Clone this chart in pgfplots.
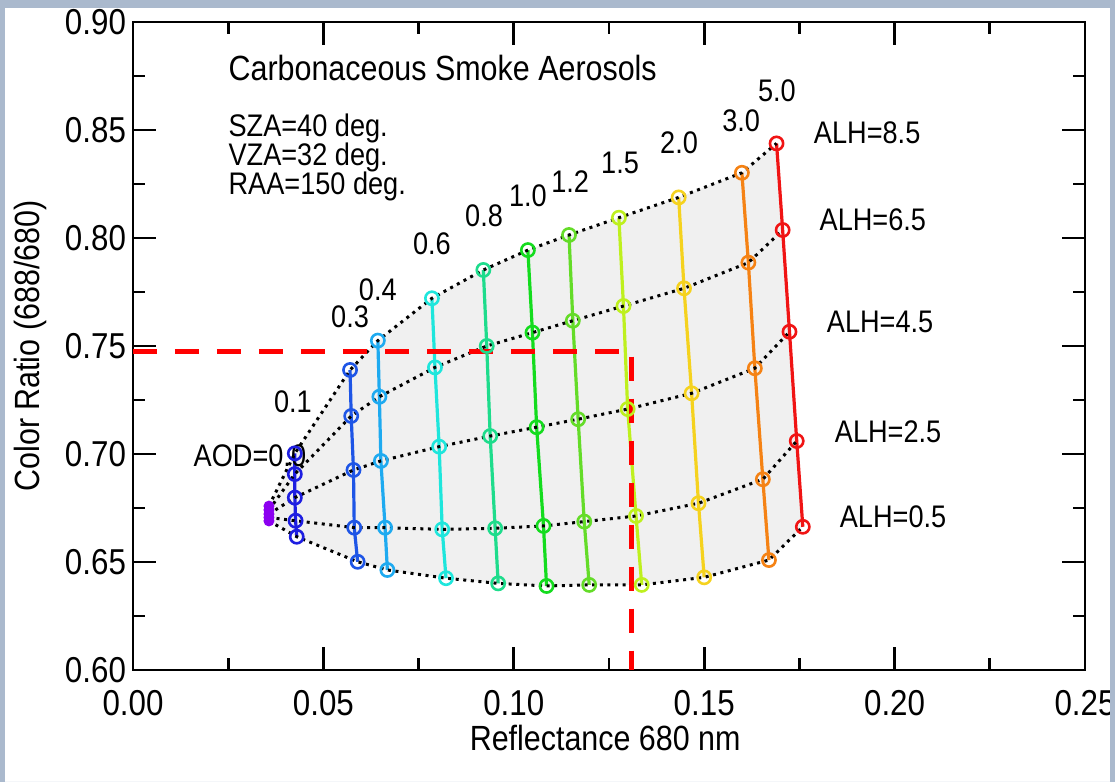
\documentclass[border=0pt]{standalone}
\usepackage{fontspec}
\setmainfont{Liberation Sans}[FakeStretch=0.87]
\usepackage{pgfplots}
\pgfplotsset{compat=1.18}
\definecolor{framec}{RGB}{170,185,205}
\definecolor{cA}{RGB}{140,0,240}
\definecolor{cB}{RGB}{30,30,225}
\definecolor{cC}{RGB}{30,85,230}
\definecolor{cD}{RGB}{30,170,240}
\definecolor{cE}{RGB}{30,230,220}
\definecolor{cF}{RGB}{30,220,140}
\definecolor{cG}{RGB}{20,220,30}
\definecolor{cH}{RGB}{100,220,40}
\definecolor{cI}{RGB}{190,240,30}
\definecolor{cJ}{RGB}{245,210,30}
\definecolor{cK}{RGB}{245,130,20}
\definecolor{cL}{RGB}{240,20,20}
\definecolor{fillc}{RGB}{240,240,240}
\begin{document}
\begin{tikzpicture}
\useasboundingbox (-66.5pt,-56pt) rectangle (491pt,335pt);
\begin{axis}[
  at={(0pt,0pt)}, anchor=south west,
  scale only axis, width=476pt, height=324pt,
  xmin=0, xmax=0.25, ymin=0.6, ymax=0.9,
  xtick={0,0.05,0.10,0.15,0.20,0.25},
  ytick={0.60,0.65,0.70,0.75,0.80,0.85,0.90},
  minor x tick num=1, minor y tick num=1,
  tick align=inside,
  major tick length=11.5pt, minor tick length=6pt,
  axis line style={line width=1.4pt},
  every tick/.style={black, line width=1.4pt},
  /pgf/number format/assume math mode=true,
  xticklabel style={yshift=-6.5pt, /pgf/number format/.cd, fixed, fixed zerofill, precision=2},
  yticklabel style={/pgf/number format/.cd, fixed, fixed zerofill, precision=2},
  tick label style={font=\fontsize{18}{18}\selectfont},
  xlabel={Reflectance 680 nm},
  ylabel={Color Ratio (688/680)},
  label style={font=\fontsize{17.5}{17.5}\selectfont},
  xlabel style={at={(axis description cs:0.496,-0.105)}, anchor=center},
  ylabel style={at={(axis description cs:-0.108,0.5)}, anchor=center},
  clip=true,
]
% shaded region
\addplot[fill=fillc, draw=none] coordinates {
 (0.0357,0.6759) (0.0425,0.7003) (0.0570,0.7389) (0.0643,0.7525) (0.0785,0.7721) (0.0920,0.7852) (0.1037,0.7944) (0.1145,0.8014) (0.1276,0.8094) (0.1433,0.8188) (0.1599,0.8302) (0.1690,0.8438)
 (0.1706,0.8037) (0.1724,0.7566) (0.1743,0.7060) (0.1759,0.6663)
 (0.1670,0.6509) (0.1500,0.6429) (0.1336,0.6394) (0.1198,0.6394) (0.1086,0.6389) (0.0959,0.6401) (0.0822,0.6425) (0.0668,0.6463) (0.0590,0.6501) (0.0430,0.6617) (0.0357,0.6690)
} -- cycle;
% AOD columns
\pgfplotsset{colline/.style={color=#1, line width=1.6pt, mark=o, mark size=3.3pt, mark options={line width=1.3pt, solid}}}
\addplot[colline=cB] coordinates {(0.0425,0.7003) (0.0425,0.6907) (0.0425,0.6798) (0.0427,0.6691) (0.0430,0.6617)};
\addplot[colline=cC] coordinates {(0.0570,0.7389) (0.0573,0.7176) (0.0579,0.6926) (0.0581,0.6659) (0.0590,0.6501)};
\addplot[colline=cD] coordinates {(0.0643,0.7525) (0.0647,0.7265) (0.0651,0.6968) (0.0662,0.6659) (0.0668,0.6463)};
\addplot[colline=cE] coordinates {(0.0785,0.7721) (0.0793,0.7401) (0.0804,0.7034) (0.0812,0.6651) (0.0822,0.6425)};
\addplot[colline=cF] coordinates {(0.0920,0.7852) (0.0929,0.7500) (0.0938,0.7083) (0.0951,0.6656) (0.0959,0.6401)};
\addplot[colline=cG] coordinates {(0.1037,0.7944) (0.1049,0.7562) (0.1060,0.7124) (0.1078,0.6667) (0.1086,0.6389)};
\addplot[colline=cH] coordinates {(0.1145,0.8014) (0.1155,0.7617) (0.1169,0.7161) (0.1185,0.6687) (0.1198,0.6394)};
\addplot[colline=cI] coordinates {(0.1276,0.8094) (0.1288,0.7685) (0.1299,0.7208) (0.1321,0.6713) (0.1336,0.6394)};
\addplot[colline=cJ] coordinates {(0.1433,0.8188) (0.1447,0.7767) (0.1467,0.7281) (0.1485,0.6772) (0.1500,0.6429)};
\addplot[colline=cK] coordinates {(0.1599,0.8302) (0.1616,0.7886) (0.1633,0.7397) (0.1654,0.6883) (0.1670,0.6509)};
\addplot[colline=cL] coordinates {(0.1690,0.8438) (0.1706,0.8037) (0.1724,0.7566) (0.1743,0.7060) (0.1759,0.6663)};
% ALH rows (dotted)
\pgfplotsset{rowline/.style={black, line width=1.5pt, dash pattern=on 1.5pt off 2.3pt}}
\addplot[rowline] coordinates {(0.0357,0.6759) (0.0425,0.7003) (0.0570,0.7389) (0.0643,0.7525) (0.0785,0.7721) (0.0920,0.7852) (0.1037,0.7944) (0.1145,0.8014) (0.1276,0.8094) (0.1433,0.8188) (0.1599,0.8302) (0.1690,0.8438)};
\addplot[rowline] coordinates {(0.0357,0.6741) (0.0425,0.6907) (0.0573,0.7176) (0.0647,0.7265) (0.0793,0.7401) (0.0929,0.7500) (0.1049,0.7562) (0.1155,0.7617) (0.1288,0.7685) (0.1447,0.7767) (0.1616,0.7886) (0.1706,0.8037)};
\addplot[rowline] coordinates {(0.0357,0.6722) (0.0425,0.6798) (0.0579,0.6926) (0.0651,0.6968) (0.0804,0.7034) (0.0938,0.7083) (0.1060,0.7124) (0.1169,0.7161) (0.1299,0.7208) (0.1467,0.7281) (0.1633,0.7397) (0.1724,0.7566)};
\addplot[rowline] coordinates {(0.0357,0.6706) (0.0427,0.6691) (0.0581,0.6659) (0.0662,0.6659) (0.0812,0.6651) (0.0951,0.6656) (0.1078,0.6667) (0.1185,0.6687) (0.1321,0.6713) (0.1485,0.6772) (0.1654,0.6883) (0.1743,0.7060)};
\addplot[rowline] coordinates {(0.0357,0.6690) (0.0430,0.6617) (0.0590,0.6501) (0.0668,0.6463) (0.0822,0.6425) (0.0959,0.6401) (0.1086,0.6389) (0.1198,0.6394) (0.1336,0.6394) (0.1500,0.6429) (0.1670,0.6509) (0.1759,0.6663)};
% AOD = 0 points
\addplot[cA, line width=1.2pt, only marks, mark=*, mark size=2.1pt] coordinates {(0.0357,0.6759) (0.0357,0.6741) (0.0357,0.6722) (0.0357,0.6706) (0.0357,0.6690)};
% red dashed guide
\addplot[red, line width=2.5pt, dash pattern=on 12pt off 9pt] coordinates {(0,0.7475) (0.131,0.7475) (0.131,0.60)};
% texts
\begin{scope}[every node/.style={inner sep=0pt, font=\fontsize{15.6}{15.6}\selectfont}]
\node[anchor=west, font=\fontsize{17.5}{17.5}\selectfont] at (axis cs:0.025,0.8787) {Carbonaceous Smoke Aerosols};
\node[anchor=west] at (axis cs:0.025,0.8509) {SZA=40 deg.};
\node[anchor=west] at (axis cs:0.025,0.8375) {VZA=32 deg.};
\node[anchor=west] at (axis cs:0.025,0.8241) {RAA=150 deg.};
\node at (axis cs:0.0307,0.6991) {AOD=0.0};
\node at (axis cs:0.0420,0.7241) {0.1};
\node at (axis cs:0.0570,0.7634) {0.3};
\node at (axis cs:0.0643,0.7759) {0.4};
\node at (axis cs:0.0785,0.7972) {0.6};
\node at (axis cs:0.0922,0.8102) {0.8};
\node at (axis cs:0.1037,0.8194) {1.0};
\node at (axis cs:0.1148,0.8259) {1.2};
\node at (axis cs:0.1279,0.8347) {1.5};
\node at (axis cs:0.1434,0.8440) {2.0};
\node at (axis cs:0.1597,0.8542) {3.0};
\node at (axis cs:0.1691,0.8681) {5.0};
\node at (axis cs:0.1928,0.8486) {ALH=8.5};
\node at (axis cs:0.1943,0.8083) {ALH=6.5};
\node at (axis cs:0.1962,0.7611) {ALH=4.5};
\node at (axis cs:0.1983,0.7102) {ALH=2.5};
\node at (axis cs:0.1996,0.6708) {ALH=0.5};
\end{scope}
\end{axis}
\fill[framec, even odd rule] (-66.5pt,-56pt) rectangle (491pt,335pt) (-64pt,-57pt) rectangle (488.5pt,331pt);
\end{tikzpicture}
\end{document}
